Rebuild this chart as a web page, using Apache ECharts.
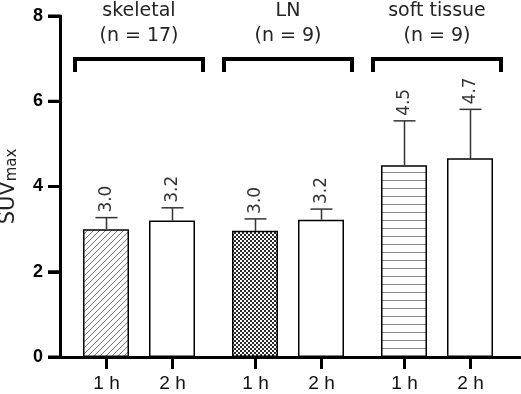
<!DOCTYPE html>
<html>
<head>
<meta charset="utf-8">
<script src="https://cdn.jsdelivr.net/npm/echarts@6/dist/echarts.min.js"></script>
<style>
  html, body { margin: 0; padding: 0; background: #fff; }
  #chart { width: 521px; height: 394px; }
</style>
</head>
<body>
<div id="chart"></div>
<script>
// data
var groups = ['skeletal', 'LN', 'soft tissue'];
var groupN = [17, 9, 9];
var timeLabels = ['1 h', '2 h'];
var yTickValues = [0, 2, 4, 6, 8];
var mean1h = [3.0, 2.96, 4.5];
var mean2h = [3.2, 3.22, 4.66];
var sd1h = [0.27, 0.28, 1.04];
var sd2h = [0.30, 0.25, 1.15];

// style
var barW = 46, barGapPx = 20;
var bracketLevel = 7.0;
var txtFont = 'DejaVu Sans';
var armFont = 'Arial';

function makePattern(kind) {
  var c = document.createElement('canvas');
  var ctx = c.getContext('2d');
  if (kind === 'diag') {
    c.width = 6; c.height = 6;
    ctx.fillStyle = '#fff'; ctx.fillRect(0, 0, 6, 6);
    ctx.strokeStyle = '#777'; ctx.lineWidth = 1;
    ctx.beginPath();
    ctx.moveTo(-1, 7); ctx.lineTo(7, -1);
    ctx.moveTo(-4, 4); ctx.lineTo(4, -4);
    ctx.moveTo(2, 10); ctx.lineTo(10, 2);
    ctx.stroke();
  } else if (kind === 'check') {
    c.width = 4; c.height = 4;
    ctx.fillStyle = '#2a2a2a'; ctx.fillRect(0, 0, 4, 4);
    ctx.fillStyle = '#fff';
    ctx.fillRect(0, 0, 2, 2); ctx.fillRect(2, 2, 2, 2);
  } else {
    c.width = 8; c.height = 8;
    ctx.fillStyle = '#fff'; ctx.fillRect(0, 0, 8, 8);
    ctx.fillStyle = '#888'; ctx.fillRect(0, 4, 8, 1);
  }
  return { image: c, repeat: 'repeat' };
}
var fills1h = [makePattern('diag'), makePattern('check'), makePattern('hline')];

function errSeries(means, sds, t) {
  var off = (t === 0 ? -1 : 1) * (barW + barGapPx) / 2;
  return {
    type: 'custom',
    xAxisIndex: 1, yAxisIndex: 1,
    clip: false,
    silent: true,
    z: 5,
    data: means.map(function (m, i) { return [i, m, sds[i]]; }),
    renderItem: function (params, api) {
      var i = api.value(0), m = api.value(1), s = api.value(2);
      var pm = api.coord([i, m]);
      var pt = api.coord([i, m + s]);
      var p0 = api.coord([i, 0]);
      var x = Math.round(pm[0] + off) + 0.5;
      return {
        type: 'group',
        children: [
          { type: 'line', shape: { x1: x, y1: pm[1], x2: x, y2: pt[1] },
            style: { stroke: '#333', lineWidth: 1.5 } },
          { type: 'line', shape: { x1: x - 11, y1: pt[1], x2: x + 11, y2: pt[1] },
            style: { stroke: '#333', lineWidth: 1.5 } },
          { type: 'text', x: x, y: pt[1] - 5, rotation: Math.PI / 2,
            style: { text: m.toFixed(1), fontFamily: txtFont, fontSize: 17,
              fill: '#333', align: 'left', verticalAlign: 'middle' } },
          { type: 'line', shape: { x1: x, y1: p0[1], x2: x, y2: p0[1] + 12 },
            style: { stroke: '#000', lineWidth: 3 } },
          { type: 'text', x: x, y: p0[1] + 27,
            style: { text: timeLabels[t], fontFamily: armFont, fontSize: 19,
              fill: '#111', align: 'center', verticalAlign: 'middle' } }
        ]
      };
    }
  };
}

var option = {
  animation: false,
  textStyle: { fontFamily: armFont },
  grid: [
    { left: 60, right: 1, top: 16, bottom: 37, containLabel: false, outerBoundsMode: 'none' },
    { left: 64.5, right: 9.5, top: 16, bottom: 37, containLabel: false, outerBoundsMode: 'none' }
  ],
  xAxis: [
    { type: 'category', gridIndex: 0, data: [''],
      axisLine: { lineStyle: { color: '#000', width: 3 } },
      axisTick: { show: false }, axisLabel: { show: false } },
    { type: 'category', gridIndex: 1, data: groups,
      axisLine: { show: false }, axisTick: { show: false }, axisLabel: { show: false } }
  ],
  yAxis: [
    { type: 'value', gridIndex: 0, min: 0, max: 8, interval: 2,
      name: '{a|SUV}{b|max}', nameLocation: 'middle', nameGap: 40,
      nameTextStyle: {
        rich: {
          a: { fontFamily: txtFont, fontSize: 21, color: '#222' },
          b: { fontFamily: txtFont, fontSize: 15, color: '#222', padding: [7, 0, 0, 0] }
        }
      },
      axisLine: { show: true, lineStyle: { color: '#000', width: 3 } },
      axisTick: { show: true, length: 12, lineStyle: { color: '#000', width: 3 } },
      axisLabel: {
        margin: 17,
        formatter: function (v) { return '{t|' + v + '}'; },
        rich: { t: { color: '#000', fontFamily: armFont, fontWeight: 'bold', fontSize: 18 } }
      },
      splitLine: { show: false } },
    { type: 'value', gridIndex: 1, min: 0, max: 8, show: false, splitLine: { show: false } }
  ],
  series: [
    { type: 'bar', name: timeLabels[0], xAxisIndex: 1, yAxisIndex: 1,
      barWidth: barW, barGap: (barGapPx / barW * 100) + '%',
      data: mean1h.map(function (v, i) {
        return { value: v, itemStyle: { color: fills1h[i] } };
      }),
      itemStyle: { borderColor: '#000', borderWidth: 1.5 } },
    { type: 'bar', name: timeLabels[1], xAxisIndex: 1, yAxisIndex: 1,
      barWidth: barW,
      data: mean2h,
      itemStyle: { color: '#fff', borderColor: '#000', borderWidth: 1.5 } },
    errSeries(mean1h, sd1h, 0),
    errSeries(mean2h, sd2h, 1),
    { // y axis tick marks
      type: 'custom', xAxisIndex: 0, yAxisIndex: 0, clip: false, silent: true, z: 6,
      data: yTickValues.map(function (v) { return [0, v]; }),
      renderItem: function (params, api) {
        var p = api.coord([0, api.value(1)]);
        var x0 = params.coordSys.x;
        return { type: 'line', shape: { x1: x0 - 12, y1: p[1], x2: x0, y2: p[1] },
          style: { stroke: '#000', lineWidth: 3 } };
      }
    },
    { // group brackets and titles
      type: 'custom', xAxisIndex: 1, yAxisIndex: 1, clip: false, silent: true,
      data: groups.map(function (g, i) { return [i]; }),
      renderItem: function (params, api) {
        var i = api.value(0);
        var p = api.coord([i, bracketLevel]);
        var cx = p[0], y = Math.round(p[1]);
        return {
          type: 'group',
          children: [
            { type: 'polyline',
              shape: { points: [[cx - 64, y + 13], [cx - 64, y], [cx + 64, y], [cx + 64, y + 13]] },
              style: { stroke: '#000', lineWidth: 4, fill: null, lineJoin: 'miter' } },
            { type: 'text', x: cx, y: y - 10,
              style: { text: groups[i] + '\n(n = ' + groupN[i] + ')',
                fontFamily: txtFont, fontSize: 19, lineHeight: 25,
                fill: '#222', align: 'center', verticalAlign: 'bottom' } }
          ]
        };
      }
    }
  ]
};

var chart = echarts.init(document.getElementById('chart'));
chart.setOption(option);
window.onresize = function () { chart.resize(); };
</script>
</body>
</html>
